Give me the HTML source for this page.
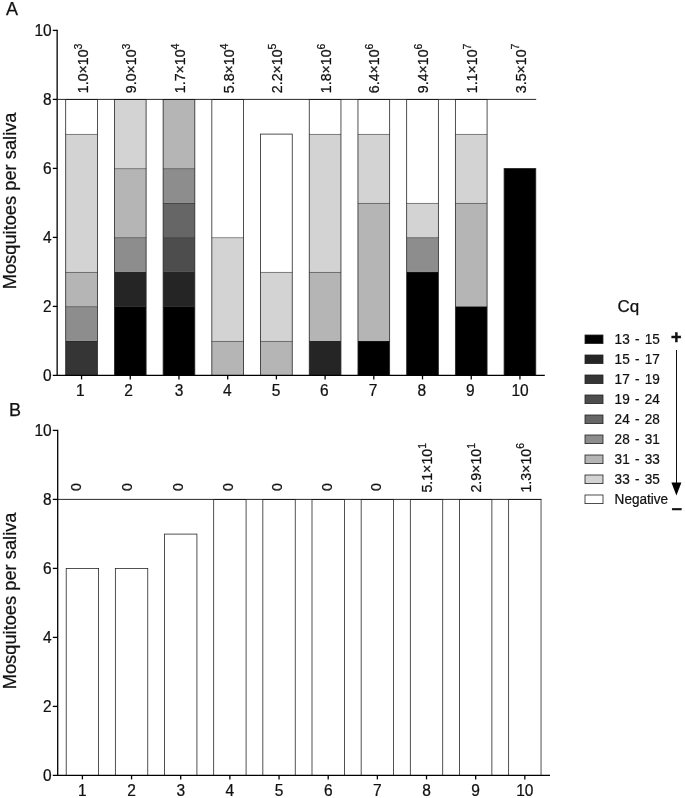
<!DOCTYPE html>
<html><head><meta charset="utf-8"><title>Figure</title>
<style>
html,body{margin:0;padding:0;background:#fff;}
svg{display:block;}
text{font-family:"Liberation Sans", Arial, Helvetica, sans-serif;fill:#111;stroke:#111;stroke-width:0.25px;}
</style></head><body>
<svg width="685" height="798" viewBox="0 0 685 798">
<rect width="685" height="798" fill="#fff"/>
<rect x="65.70" y="340.90" width="31.70" height="34.50" fill="#353535"/>
<line x1="65.70" y1="341.10" x2="97.40" y2="341.10" stroke="#262626" stroke-width="0.8"/>
<rect x="65.70" y="306.40" width="31.70" height="34.50" fill="#8d8d8d"/>
<line x1="65.70" y1="306.60" x2="97.40" y2="306.60" stroke="#262626" stroke-width="0.8"/>
<rect x="65.70" y="271.90" width="31.70" height="34.50" fill="#b5b5b5"/>
<line x1="65.70" y1="272.10" x2="97.40" y2="272.10" stroke="#262626" stroke-width="0.8"/>
<rect x="65.70" y="133.90" width="31.70" height="138.00" fill="#d3d3d3"/>
<line x1="65.70" y1="134.10" x2="97.40" y2="134.10" stroke="#262626" stroke-width="0.8"/>
<rect x="65.70" y="99.40" width="31.70" height="34.50" fill="#ffffff"/>
<rect x="65.70" y="99.60" width="31.70" height="275.80" fill="none" stroke="#262626" stroke-width="0.8"/>
<rect x="114.41" y="306.40" width="31.70" height="69.00" fill="#000000"/>
<line x1="114.41" y1="306.60" x2="146.11" y2="306.60" stroke="#262626" stroke-width="0.8"/>
<rect x="114.41" y="271.90" width="31.70" height="34.50" fill="#252525"/>
<line x1="114.41" y1="272.10" x2="146.11" y2="272.10" stroke="#262626" stroke-width="0.8"/>
<rect x="114.41" y="237.40" width="31.70" height="34.50" fill="#8d8d8d"/>
<line x1="114.41" y1="237.60" x2="146.11" y2="237.60" stroke="#262626" stroke-width="0.8"/>
<rect x="114.41" y="168.40" width="31.70" height="69.00" fill="#b5b5b5"/>
<line x1="114.41" y1="168.60" x2="146.11" y2="168.60" stroke="#262626" stroke-width="0.8"/>
<rect x="114.41" y="99.40" width="31.70" height="69.00" fill="#d3d3d3"/>
<rect x="114.41" y="99.60" width="31.70" height="275.80" fill="none" stroke="#262626" stroke-width="0.8"/>
<rect x="163.12" y="306.40" width="31.70" height="69.00" fill="#000000"/>
<line x1="163.12" y1="306.60" x2="194.82" y2="306.60" stroke="#262626" stroke-width="0.8"/>
<rect x="163.12" y="271.90" width="31.70" height="34.50" fill="#252525"/>
<line x1="163.12" y1="272.10" x2="194.82" y2="272.10" stroke="#262626" stroke-width="0.8"/>
<rect x="163.12" y="237.40" width="31.70" height="34.50" fill="#4d4d4d"/>
<line x1="163.12" y1="237.60" x2="194.82" y2="237.60" stroke="#262626" stroke-width="0.8"/>
<rect x="163.12" y="202.90" width="31.70" height="34.50" fill="#666666"/>
<line x1="163.12" y1="203.10" x2="194.82" y2="203.10" stroke="#262626" stroke-width="0.8"/>
<rect x="163.12" y="168.40" width="31.70" height="34.50" fill="#8d8d8d"/>
<line x1="163.12" y1="168.60" x2="194.82" y2="168.60" stroke="#262626" stroke-width="0.8"/>
<rect x="163.12" y="99.40" width="31.70" height="69.00" fill="#b5b5b5"/>
<rect x="163.12" y="99.60" width="31.70" height="275.80" fill="none" stroke="#262626" stroke-width="0.8"/>
<rect x="211.83" y="340.90" width="31.70" height="34.50" fill="#b5b5b5"/>
<line x1="211.83" y1="341.10" x2="243.53" y2="341.10" stroke="#262626" stroke-width="0.8"/>
<rect x="211.83" y="237.40" width="31.70" height="103.50" fill="#d3d3d3"/>
<line x1="211.83" y1="237.60" x2="243.53" y2="237.60" stroke="#262626" stroke-width="0.8"/>
<rect x="211.83" y="99.40" width="31.70" height="138.00" fill="#ffffff"/>
<rect x="211.83" y="99.60" width="31.70" height="275.80" fill="none" stroke="#262626" stroke-width="0.8"/>
<rect x="260.54" y="340.90" width="31.70" height="34.50" fill="#b5b5b5"/>
<line x1="260.54" y1="341.10" x2="292.24" y2="341.10" stroke="#262626" stroke-width="0.8"/>
<rect x="260.54" y="271.90" width="31.70" height="69.00" fill="#d3d3d3"/>
<line x1="260.54" y1="272.10" x2="292.24" y2="272.10" stroke="#262626" stroke-width="0.8"/>
<rect x="260.54" y="133.90" width="31.70" height="138.00" fill="#ffffff"/>
<rect x="260.54" y="134.10" width="31.70" height="241.30" fill="none" stroke="#262626" stroke-width="0.8"/>
<rect x="309.25" y="340.90" width="31.70" height="34.50" fill="#252525"/>
<line x1="309.25" y1="341.10" x2="340.95" y2="341.10" stroke="#262626" stroke-width="0.8"/>
<rect x="309.25" y="271.90" width="31.70" height="69.00" fill="#b5b5b5"/>
<line x1="309.25" y1="272.10" x2="340.95" y2="272.10" stroke="#262626" stroke-width="0.8"/>
<rect x="309.25" y="133.90" width="31.70" height="138.00" fill="#d3d3d3"/>
<line x1="309.25" y1="134.10" x2="340.95" y2="134.10" stroke="#262626" stroke-width="0.8"/>
<rect x="309.25" y="99.40" width="31.70" height="34.50" fill="#ffffff"/>
<rect x="309.25" y="99.60" width="31.70" height="275.80" fill="none" stroke="#262626" stroke-width="0.8"/>
<rect x="357.96" y="340.90" width="31.70" height="34.50" fill="#000000"/>
<line x1="357.96" y1="341.10" x2="389.66" y2="341.10" stroke="#262626" stroke-width="0.8"/>
<rect x="357.96" y="202.90" width="31.70" height="138.00" fill="#b5b5b5"/>
<line x1="357.96" y1="203.10" x2="389.66" y2="203.10" stroke="#262626" stroke-width="0.8"/>
<rect x="357.96" y="133.90" width="31.70" height="69.00" fill="#d3d3d3"/>
<line x1="357.96" y1="134.10" x2="389.66" y2="134.10" stroke="#262626" stroke-width="0.8"/>
<rect x="357.96" y="99.40" width="31.70" height="34.50" fill="#ffffff"/>
<rect x="357.96" y="99.60" width="31.70" height="275.80" fill="none" stroke="#262626" stroke-width="0.8"/>
<rect x="406.67" y="271.90" width="31.70" height="103.50" fill="#000000"/>
<line x1="406.67" y1="272.10" x2="438.37" y2="272.10" stroke="#262626" stroke-width="0.8"/>
<rect x="406.67" y="237.40" width="31.70" height="34.50" fill="#8d8d8d"/>
<line x1="406.67" y1="237.60" x2="438.37" y2="237.60" stroke="#262626" stroke-width="0.8"/>
<rect x="406.67" y="202.90" width="31.70" height="34.50" fill="#d3d3d3"/>
<line x1="406.67" y1="203.10" x2="438.37" y2="203.10" stroke="#262626" stroke-width="0.8"/>
<rect x="406.67" y="99.40" width="31.70" height="103.50" fill="#ffffff"/>
<rect x="406.67" y="99.60" width="31.70" height="275.80" fill="none" stroke="#262626" stroke-width="0.8"/>
<rect x="455.38" y="306.40" width="31.70" height="69.00" fill="#000000"/>
<line x1="455.38" y1="306.60" x2="487.08" y2="306.60" stroke="#262626" stroke-width="0.8"/>
<rect x="455.38" y="202.90" width="31.70" height="103.50" fill="#b5b5b5"/>
<line x1="455.38" y1="203.10" x2="487.08" y2="203.10" stroke="#262626" stroke-width="0.8"/>
<rect x="455.38" y="133.90" width="31.70" height="69.00" fill="#d3d3d3"/>
<line x1="455.38" y1="134.10" x2="487.08" y2="134.10" stroke="#262626" stroke-width="0.8"/>
<rect x="455.38" y="99.40" width="31.70" height="34.50" fill="#ffffff"/>
<rect x="455.38" y="99.60" width="31.70" height="275.80" fill="none" stroke="#262626" stroke-width="0.8"/>
<rect x="504.09" y="168.40" width="31.70" height="207.00" fill="#000000"/>
<rect x="504.09" y="168.60" width="31.70" height="206.80" fill="none" stroke="#262626" stroke-width="0.8"/>
<line x1="57.5" y1="99.40" x2="536.19" y2="99.40" stroke="#111" stroke-width="0.9"/>
<line x1="57.15" y1="29.80" x2="57.15" y2="376.00" stroke="#000" stroke-width="1.3"/>
<line x1="52.8" y1="375.40" x2="544.80" y2="375.40" stroke="#000" stroke-width="1.3"/>
<line x1="52.8" y1="306.40" x2="57.15" y2="306.40" stroke="#000" stroke-width="1.3"/>
<line x1="52.8" y1="237.40" x2="57.15" y2="237.40" stroke="#000" stroke-width="1.3"/>
<line x1="52.8" y1="168.40" x2="57.15" y2="168.40" stroke="#000" stroke-width="1.3"/>
<line x1="52.8" y1="99.40" x2="57.15" y2="99.40" stroke="#000" stroke-width="1.3"/>
<line x1="52.8" y1="30.40" x2="57.15" y2="30.40" stroke="#000" stroke-width="1.3"/>
<text transform="translate(51.7,381.30) scale(0.93,1)" font-size="16.7" text-anchor="end">0</text>
<text transform="translate(51.7,312.30) scale(0.93,1)" font-size="16.7" text-anchor="end">2</text>
<text transform="translate(51.7,243.30) scale(0.93,1)" font-size="16.7" text-anchor="end">4</text>
<text transform="translate(51.7,174.30) scale(0.93,1)" font-size="16.7" text-anchor="end">6</text>
<text transform="translate(51.7,105.30) scale(0.93,1)" font-size="16.7" text-anchor="end">8</text>
<text transform="translate(51.7,36.30) scale(0.93,1)" font-size="16.7" text-anchor="end">10</text>
<line x1="81.55" y1="375.40" x2="81.55" y2="379.40" stroke="#000" stroke-width="1.3"/>
<text transform="translate(80.25,395.60) scale(0.93,1)" font-size="16.7" text-anchor="middle">1</text>
<line x1="130.26" y1="375.40" x2="130.26" y2="379.40" stroke="#000" stroke-width="1.3"/>
<text transform="translate(128.46,395.60) scale(0.93,1)" font-size="16.7" text-anchor="middle">2</text>
<line x1="178.97" y1="375.40" x2="178.97" y2="379.40" stroke="#000" stroke-width="1.3"/>
<text transform="translate(179.17,395.60) scale(0.93,1)" font-size="16.7" text-anchor="middle">3</text>
<line x1="227.68" y1="375.40" x2="227.68" y2="379.40" stroke="#000" stroke-width="1.3"/>
<text transform="translate(227.28,395.60) scale(0.93,1)" font-size="16.7" text-anchor="middle">4</text>
<line x1="276.39" y1="375.40" x2="276.39" y2="379.40" stroke="#000" stroke-width="1.3"/>
<text transform="translate(276.19,395.60) scale(0.93,1)" font-size="16.7" text-anchor="middle">5</text>
<line x1="325.10" y1="375.40" x2="325.10" y2="379.40" stroke="#000" stroke-width="1.3"/>
<text transform="translate(324.30,395.60) scale(0.93,1)" font-size="16.7" text-anchor="middle">6</text>
<line x1="373.81" y1="375.40" x2="373.81" y2="379.40" stroke="#000" stroke-width="1.3"/>
<text transform="translate(373.01,395.60) scale(0.93,1)" font-size="16.7" text-anchor="middle">7</text>
<line x1="422.52" y1="375.40" x2="422.52" y2="379.40" stroke="#000" stroke-width="1.3"/>
<text transform="translate(421.72,395.60) scale(0.93,1)" font-size="16.7" text-anchor="middle">8</text>
<line x1="471.23" y1="375.40" x2="471.23" y2="379.40" stroke="#000" stroke-width="1.3"/>
<text transform="translate(470.43,395.60) scale(0.93,1)" font-size="16.7" text-anchor="middle">9</text>
<line x1="519.94" y1="375.40" x2="519.94" y2="379.40" stroke="#000" stroke-width="1.3"/>
<text transform="translate(520.04,395.60) scale(0.93,1)" font-size="16.7" text-anchor="middle">10</text>
<text transform="translate(87.65,93.20) rotate(-90)" font-size="14.2">1.0×10<tspan font-size="10.5" dy="-6.1">3</tspan></text>
<text transform="translate(136.36,93.20) rotate(-90)" font-size="14.2">9.0×10<tspan font-size="10.5" dy="-6.1">3</tspan></text>
<text transform="translate(185.07,93.20) rotate(-90)" font-size="14.2">1.7×10<tspan font-size="10.5" dy="-6.1">4</tspan></text>
<text transform="translate(233.78,93.20) rotate(-90)" font-size="14.2">5.8×10<tspan font-size="10.5" dy="-6.1">4</tspan></text>
<text transform="translate(282.49,93.20) rotate(-90)" font-size="14.2">2.2×10<tspan font-size="10.5" dy="-6.1">5</tspan></text>
<text transform="translate(330.90,93.20) rotate(-90)" font-size="14.2">1.8×10<tspan font-size="10.5" dy="-6.1">6</tspan></text>
<text transform="translate(379.31,93.20) rotate(-90)" font-size="14.2">6.4×10<tspan font-size="10.5" dy="-6.1">6</tspan></text>
<text transform="translate(428.22,93.20) rotate(-90)" font-size="14.2">9.4×10<tspan font-size="10.5" dy="-6.1">6</tspan></text>
<text transform="translate(476.83,93.20) rotate(-90)" font-size="14.2">1.1×10<tspan font-size="10.5" dy="-6.1">7</tspan></text>
<text transform="translate(525.54,93.20) rotate(-90)" font-size="14.2">3.5×10<tspan font-size="10.5" dy="-6.1">7</tspan></text>
<text transform="translate(15.8,200.90) rotate(-90)" font-size="18.3" text-anchor="middle">Mosquitoes per saliva</text>
<text x="5.9" y="15.3" font-size="18">A</text>
<rect x="66.20" y="568.40" width="32.40" height="207.00" fill="#ffffff"/>
<rect x="66.20" y="568.60" width="32.40" height="206.80" fill="none" stroke="#262626" stroke-width="0.8"/>
<rect x="115.36" y="568.40" width="32.40" height="207.00" fill="#ffffff"/>
<rect x="115.36" y="568.60" width="32.40" height="206.80" fill="none" stroke="#262626" stroke-width="0.8"/>
<rect x="164.52" y="533.90" width="32.40" height="241.50" fill="#ffffff"/>
<rect x="164.52" y="534.10" width="32.40" height="241.30" fill="none" stroke="#262626" stroke-width="0.8"/>
<rect x="213.68" y="499.40" width="32.40" height="276.00" fill="#ffffff"/>
<rect x="213.68" y="499.60" width="32.40" height="275.80" fill="none" stroke="#262626" stroke-width="0.8"/>
<rect x="262.84" y="499.40" width="32.40" height="276.00" fill="#ffffff"/>
<rect x="262.84" y="499.60" width="32.40" height="275.80" fill="none" stroke="#262626" stroke-width="0.8"/>
<rect x="312.00" y="499.40" width="32.40" height="276.00" fill="#ffffff"/>
<rect x="312.00" y="499.60" width="32.40" height="275.80" fill="none" stroke="#262626" stroke-width="0.8"/>
<rect x="361.16" y="499.40" width="32.40" height="276.00" fill="#ffffff"/>
<rect x="361.16" y="499.60" width="32.40" height="275.80" fill="none" stroke="#262626" stroke-width="0.8"/>
<rect x="410.32" y="499.40" width="32.40" height="276.00" fill="#ffffff"/>
<rect x="410.32" y="499.60" width="32.40" height="275.80" fill="none" stroke="#262626" stroke-width="0.8"/>
<rect x="459.48" y="499.40" width="32.40" height="276.00" fill="#ffffff"/>
<rect x="459.48" y="499.60" width="32.40" height="275.80" fill="none" stroke="#262626" stroke-width="0.8"/>
<rect x="508.64" y="499.40" width="32.40" height="276.00" fill="#ffffff"/>
<rect x="508.64" y="499.60" width="32.40" height="275.80" fill="none" stroke="#262626" stroke-width="0.8"/>
<line x1="57.5" y1="499.40" x2="541.44" y2="499.40" stroke="#111" stroke-width="0.9"/>
<line x1="57.7" y1="429.80" x2="57.7" y2="776.00" stroke="#000" stroke-width="1.3"/>
<line x1="52.8" y1="775.40" x2="550.00" y2="775.40" stroke="#000" stroke-width="1.3"/>
<line x1="52.8" y1="706.40" x2="57.7" y2="706.40" stroke="#000" stroke-width="1.3"/>
<line x1="52.8" y1="637.40" x2="57.7" y2="637.40" stroke="#000" stroke-width="1.3"/>
<line x1="52.8" y1="568.40" x2="57.7" y2="568.40" stroke="#000" stroke-width="1.3"/>
<line x1="52.8" y1="499.40" x2="57.7" y2="499.40" stroke="#000" stroke-width="1.3"/>
<line x1="52.8" y1="430.40" x2="57.7" y2="430.40" stroke="#000" stroke-width="1.3"/>
<text transform="translate(51.7,781.30) scale(0.93,1)" font-size="16.7" text-anchor="end">0</text>
<text transform="translate(51.7,712.30) scale(0.93,1)" font-size="16.7" text-anchor="end">2</text>
<text transform="translate(51.7,643.30) scale(0.93,1)" font-size="16.7" text-anchor="end">4</text>
<text transform="translate(51.7,574.30) scale(0.93,1)" font-size="16.7" text-anchor="end">6</text>
<text transform="translate(51.7,505.30) scale(0.93,1)" font-size="16.7" text-anchor="end">8</text>
<text transform="translate(51.7,436.30) scale(0.93,1)" font-size="16.7" text-anchor="end">10</text>
<line x1="82.40" y1="775.40" x2="82.40" y2="779.40" stroke="#000" stroke-width="1.3"/>
<text transform="translate(82.40,795.60) scale(0.93,1)" font-size="16.7" text-anchor="middle">1</text>
<line x1="131.56" y1="775.40" x2="131.56" y2="779.40" stroke="#000" stroke-width="1.3"/>
<text transform="translate(131.56,795.60) scale(0.93,1)" font-size="16.7" text-anchor="middle">2</text>
<line x1="180.72" y1="775.40" x2="180.72" y2="779.40" stroke="#000" stroke-width="1.3"/>
<text transform="translate(180.72,795.60) scale(0.93,1)" font-size="16.7" text-anchor="middle">3</text>
<line x1="229.88" y1="775.40" x2="229.88" y2="779.40" stroke="#000" stroke-width="1.3"/>
<text transform="translate(229.88,795.60) scale(0.93,1)" font-size="16.7" text-anchor="middle">4</text>
<line x1="279.04" y1="775.40" x2="279.04" y2="779.40" stroke="#000" stroke-width="1.3"/>
<text transform="translate(279.04,795.60) scale(0.93,1)" font-size="16.7" text-anchor="middle">5</text>
<line x1="328.20" y1="775.40" x2="328.20" y2="779.40" stroke="#000" stroke-width="1.3"/>
<text transform="translate(328.20,795.60) scale(0.93,1)" font-size="16.7" text-anchor="middle">6</text>
<line x1="377.36" y1="775.40" x2="377.36" y2="779.40" stroke="#000" stroke-width="1.3"/>
<text transform="translate(377.36,795.60) scale(0.93,1)" font-size="16.7" text-anchor="middle">7</text>
<line x1="426.52" y1="775.40" x2="426.52" y2="779.40" stroke="#000" stroke-width="1.3"/>
<text transform="translate(426.52,795.60) scale(0.93,1)" font-size="16.7" text-anchor="middle">8</text>
<line x1="475.68" y1="775.40" x2="475.68" y2="779.40" stroke="#000" stroke-width="1.3"/>
<text transform="translate(475.68,795.60) scale(0.93,1)" font-size="16.7" text-anchor="middle">9</text>
<line x1="524.84" y1="775.40" x2="524.84" y2="779.40" stroke="#000" stroke-width="1.3"/>
<text transform="translate(524.84,795.60) scale(0.93,1)" font-size="16.7" text-anchor="middle">10</text>
<text transform="translate(81.40,491.10) rotate(-90)" font-size="14.2">0</text>
<text transform="translate(132.41,491.10) rotate(-90)" font-size="14.2">0</text>
<text transform="translate(183.42,491.10) rotate(-90)" font-size="14.2">0</text>
<text transform="translate(232.63,491.10) rotate(-90)" font-size="14.2">0</text>
<text transform="translate(281.84,491.10) rotate(-90)" font-size="14.2">0</text>
<text transform="translate(331.60,491.10) rotate(-90)" font-size="14.2">0</text>
<text transform="translate(380.96,491.10) rotate(-90)" font-size="14.2">0</text>
<text transform="translate(432.22,492.60) rotate(-90)" font-size="14.2">5.1×10<tspan font-size="10.5" dy="-6.1">1</tspan></text>
<text transform="translate(481.38,492.60) rotate(-90)" font-size="14.2">2.9×10<tspan font-size="10.5" dy="-6.1">1</tspan></text>
<text transform="translate(530.54,492.60) rotate(-90)" font-size="14.2">1.3×10<tspan font-size="10.5" dy="-6.1">6</tspan></text>
<text transform="translate(15.8,600.90) rotate(-90)" font-size="18.3" text-anchor="middle">Mosquitoes per saliva</text>
<text x="8.9" y="416.1" font-size="18">B</text>
<text x="617.6" y="312.4" font-size="17">Cq</text>
<rect x="585" y="335" width="18" height="8.6" fill="#000000" stroke="#222" stroke-width="0.8"/>
<text transform="translate(614.6,343.7) scale(0.93,1)" font-size="14.6" word-spacing="1.6">13 - 15</text>
<rect x="585" y="355" width="18" height="8.6" fill="#252525" stroke="#222" stroke-width="0.8"/>
<text transform="translate(614.6,363.7) scale(0.93,1)" font-size="14.6" word-spacing="1.6">15 - 17</text>
<rect x="585" y="375" width="18" height="8.6" fill="#353535" stroke="#222" stroke-width="0.8"/>
<text transform="translate(614.6,383.7) scale(0.93,1)" font-size="14.6" word-spacing="1.6">17 - 19</text>
<rect x="585" y="395" width="18" height="8.6" fill="#4d4d4d" stroke="#222" stroke-width="0.8"/>
<text transform="translate(614.6,403.7) scale(0.93,1)" font-size="14.6" word-spacing="1.6">19 - 24</text>
<rect x="585" y="415" width="18" height="8.6" fill="#666666" stroke="#222" stroke-width="0.8"/>
<text transform="translate(614.6,423.7) scale(0.93,1)" font-size="14.6" word-spacing="1.6">24 - 28</text>
<rect x="585" y="435" width="18" height="8.6" fill="#8d8d8d" stroke="#222" stroke-width="0.8"/>
<text transform="translate(614.6,443.7) scale(0.93,1)" font-size="14.6" word-spacing="1.6">28 - 31</text>
<rect x="585" y="455" width="18" height="8.6" fill="#b5b5b5" stroke="#222" stroke-width="0.8"/>
<text transform="translate(614.6,463.7) scale(0.93,1)" font-size="14.6" word-spacing="1.6">31 - 33</text>
<rect x="585" y="475" width="18" height="8.6" fill="#d3d3d3" stroke="#222" stroke-width="0.8"/>
<text transform="translate(614.6,483.7) scale(0.93,1)" font-size="14.6" word-spacing="1.6">33 - 35</text>
<rect x="585" y="495" width="18" height="8.6" fill="#ffffff" stroke="#222" stroke-width="0.8"/>
<text transform="translate(614.6,503.7) scale(0.93,1)" font-size="14.6" word-spacing="1.6">Negative</text>
<line x1="676.5" y1="350" x2="676.5" y2="484" stroke="#111" stroke-width="1"/>
<polygon points="671.4,482.4 681.4,482.4 676.4,495.5" fill="#000"/>
<text x="676.3" y="343.3" font-size="18" font-weight="bold" text-anchor="middle" style="stroke-width:0.5px">+</text>
<text x="676.8" y="514" font-size="19" font-weight="bold" text-anchor="middle">–</text>
</svg></body></html>
